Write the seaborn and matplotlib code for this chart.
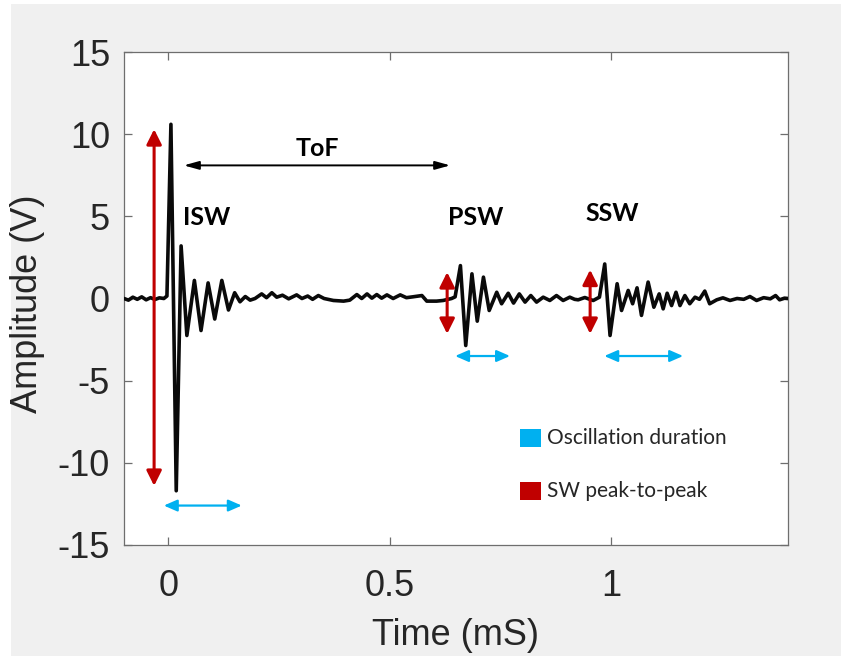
import matplotlib
matplotlib.use("Agg")
import matplotlib.pyplot as plt
from matplotlib.patches import Rectangle
import seaborn as sns
import pandas as pd

# waveform (time in ms, amplitude in V)
time_ms = [-0.100, -0.090, -0.080, -0.070, -0.060, -0.050, -0.040, -0.030, -0.020, -0.010, -0.003,
           0.006, 0.018, 0.029, 0.042, 0.059, 0.074, 0.090, 0.105, 0.121, 0.136, 0.150, 0.162,
           0.174, 0.185, 0.196, 0.211, 0.222, 0.234, 0.245, 0.258, 0.272, 0.290, 0.302, 0.315,
           0.326, 0.339, 0.352, 0.373, 0.396, 0.410, 0.426, 0.437, 0.449, 0.460, 0.471, 0.482,
           0.494, 0.508, 0.524, 0.538, 0.552, 0.573, 0.584, 0.606, 0.621, 0.632, 0.640, 0.648,
           0.660, 0.672, 0.686, 0.698, 0.712, 0.725, 0.742, 0.753, 0.768, 0.780, 0.793, 0.806,
           0.819, 0.832, 0.847, 0.862, 0.877, 0.892, 0.907, 0.918, 0.926, 0.941, 0.952, 0.960,
           0.974, 0.986, 0.998, 1.014, 1.024, 1.039, 1.049, 1.059, 1.069, 1.084, 1.097, 1.109,
           1.118, 1.127, 1.137, 1.147, 1.156, 1.167, 1.178, 1.190, 1.200, 1.212, 1.223, 1.239,
           1.253, 1.269, 1.285, 1.300, 1.314, 1.329, 1.345, 1.360, 1.372, 1.381, 1.392, 1.400]
amplitude_v = [0.00, -0.10, 0.08, -0.05, 0.10, -0.08, 0.05, -0.06, 0.04, 0.00, 0.15,
               10.6, -11.7, 3.2, -2.25, 1.1, -1.95, 0.95, -1.25, 1.1, -0.7, 0.35, -0.2,
               0.12, -0.1, 0.0, 0.28, 0.05, 0.35, 0.08, 0.2, -0.02, 0.22, 0.0, 0.15,
               -0.05, 0.18, 0.0, -0.12, -0.16, -0.1, 0.24, 0.0, 0.28, 0.02, 0.24, 0.02,
               0.22, 0.0, 0.22, 0.05, 0.1, 0.18, -0.16, -0.16, -0.12, -0.05, 0.0, 0.1,
               2.0, -2.86, 1.5, -1.38, 1.3, -0.73, 0.38, -0.32, 0.32, -0.28, 0.28, -0.22,
               0.18, -0.22, 0.08, -0.12, 0.18, -0.12, 0.08, -0.05, -0.08, 0.06, -0.05, -0.12,
               0.08, 2.1, -2.25, 0.9, -0.73, 0.49, -0.32, 0.65, -1.03, 1.0, -0.53, 0.28,
               -0.63, 0.32, -0.43, 0.38, -0.43, 0.18, -0.32, 0.08, -0.05, 0.45, -0.32, -0.08,
               0.04, -0.12, 0.0, -0.05, 0.12, -0.12, 0.05, -0.02, 0.18, -0.08, 0.02, 0.0]

wave_labels = ["ISW", "PSW", "SSW"]
label_x = [0.086, 0.695, 1.002]
label_y = [4.9, 4.9, 5.2]

# peak-to-peak markers (x, low, high)
p2p_x = [-0.032, 0.630, 0.953]
p2p_low = [-11.4, -2.15, -2.15]
p2p_high = [10.3, 1.6, 1.75]

# oscillation duration markers (y, start, end)
dur_y = [-12.6, -3.5, -3.5]
dur_start = [-0.010, 0.648, 0.985]
dur_end = [0.166, 0.772, 1.163]

tof_start, tof_end, tof_y = 0.035, 0.637, 8.1

legend_labels = ["Oscillation duration", "SW peak-to-peak"]
RED = "#c00000"
BLUE = "#00b0f0"

df = pd.DataFrame({"t": time_ms, "a": amplitude_v})

sns.set_style("ticks")
plt.rcParams["font.family"] = ["Liberation Sans", "DejaVu Sans"]
plt.rcParams["axes.unicode_minus"] = False

fig = plt.figure(figsize=(8.41, 6.58), dpi=100, facecolor="white")
fig.add_artist(Rectangle((11 / 841, 2 / 658), 1 - 11 / 841, 652 / 658,
                         transform=fig.transFigure, facecolor="#f0f0f0",
                         edgecolor="none", zorder=-10))
ax = fig.add_axes([124 / 841, 113 / 658, 664 / 841, 493 / 658])
ax.set_facecolor("white")

sns.lineplot(data=df, x="t", y="a", ax=ax, color="black", sort=False,
             estimator=None, zorder=5)
wave = ax.lines[0]
wave.set_linewidth(2.6)
wave.set_solid_joinstyle("round")
wave.set_color("#0a0a0a")

ax.set_xlim(-0.1, 1.4)
ax.set_ylim(-15, 15)
ax.set_xticks([0, 0.5, 1])
ax.set_xticklabels(["0", "0.5", "1"])
ax.set_yticks(range(-15, 16, 5))
ax.set_xlabel("")
ax.set_ylabel("")
for s in ax.spines.values():
    s.set_visible(True)
    s.set_color("#6e6e6e")
    s.set_linewidth(0.9)
ax.tick_params(direction="in", length=6, width=0.9, color="#6e6e6e",
               top=True, right=True, labelsize=26, labelcolor="#262626")
ax.tick_params(axis="x", pad=17)
ax.tick_params(axis="y", pad=10)

ax.text(0.5, -0.183, "Time (mS)", transform=ax.transAxes, ha="center", va="center",
        fontsize=26, color="#262626")
ax.text(-0.146, 0.489, "Amplitude (V)", transform=ax.transAxes, ha="center", va="center",
        rotation=90, fontsize=26, color="#262626")

# arrows
for x, lo, hi in zip(p2p_x, p2p_low, p2p_high):
    ax.annotate("", xy=(x, lo), xytext=(x, hi),
                arrowprops=dict(arrowstyle="<|-|>,head_length=0.9,head_width=0.45",
                                color=RED, lw=2.2, shrinkA=0, shrinkB=0), zorder=6)
for y, a, b in zip(dur_y, dur_start, dur_end):
    ax.annotate("", xy=(a, y), xytext=(b, y),
                arrowprops=dict(arrowstyle="<|-|>,head_length=0.8,head_width=0.35",
                                color=BLUE, lw=1.6, shrinkA=0, shrinkB=0), zorder=6)
ax.annotate("", xy=(tof_start, tof_y), xytext=(tof_end, tof_y),
            arrowprops=dict(arrowstyle="<|-|>,head_length=0.9,head_width=0.25",
                            color="black", lw=1.4, shrinkA=0, shrinkB=0), zorder=6)

lab_font = ["Lato", "DejaVu Sans"]
ax.text((tof_start + tof_end) / 2, 9.1, "ToF", ha="center", va="center",
        fontsize=18, fontweight="bold", family=lab_font, color="black")
for lab, x, y in zip(wave_labels, label_x, label_y):
    ax.text(x, y, lab, ha="center", va="center", fontsize=18, fontweight="bold",
            family=lab_font, color="black")

# hand-drawn legend
for i, (lab, col) in enumerate(zip(legend_labels, [BLUE, RED])):
    yb = [0.199, 0.092][i]
    ax.add_patch(Rectangle((0.596, yb), 0.032, 0.036, transform=ax.transAxes,
                           facecolor=col, edgecolor="none", zorder=6))
    ax.text(0.637, yb + 0.018, lab, transform=ax.transAxes, ha="left", va="center",
            fontsize=15, family=lab_font, color="#262626")

fig.savefig("out.png", dpi=100, facecolor=fig.get_facecolor())
